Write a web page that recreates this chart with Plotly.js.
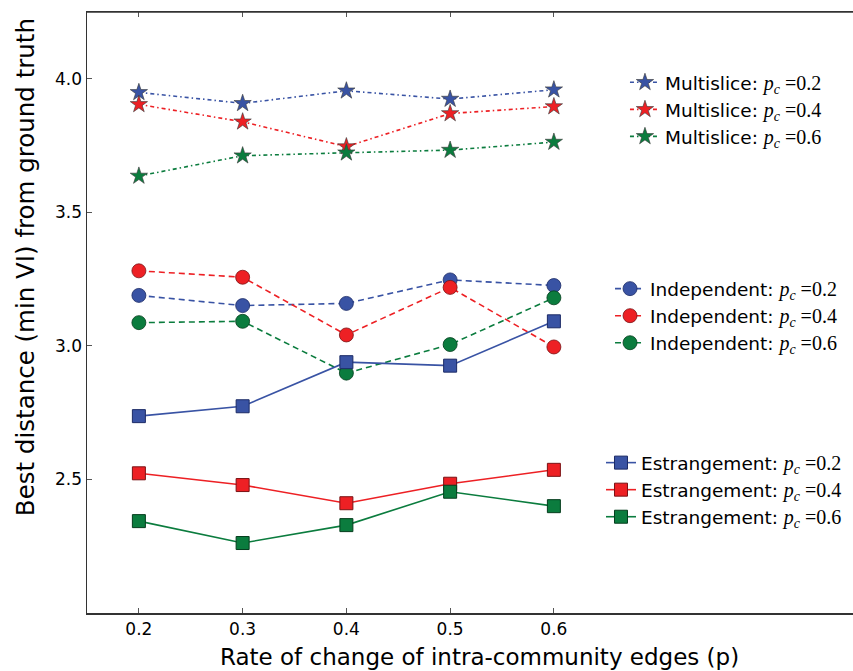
<!DOCTYPE html>
<html>
<head>
<meta charset="utf-8">
<script src="https://cdn.plot.ly/plotly-3.0.1.min.js"></script>
<style>html,body{margin:0;padding:0;background:#fff;}#chart{width:853px;height:671px;}</style>
</head>
<body>
<div id="chart"></div>
<script>
// ---- data ----
const pValues = [0.2, 0.3, 0.4, 0.5, 0.6];

const multislice02 = [3.949, 3.908, 3.955, 3.924, 3.959];
const multislice04 = [3.904, 3.839, 3.746, 3.870, 3.896];
const multislice06 = [3.636, 3.712, 3.723, 3.733, 3.763];

const independent02 = [3.189, 3.151, 3.159, 3.247, 3.226];
const independent04 = [3.281, 3.257, 3.041, 3.219, 2.996];
const independent06 = [3.087, 3.092, 2.898, 3.005, 3.180];

const estrangement02 = [2.737, 2.774, 2.939, 2.926, 3.092];
const estrangement04 = [2.523, 2.479, 2.411, 2.484, 2.536];
const estrangement06 = [2.344, 2.262, 2.329, 2.454, 2.400];

const xTickVals = [0.2, 0.3, 0.4, 0.5, 0.6];
const xTickText = ["0.2", "0.3", "0.4", "0.5", "0.6"];
const yTickVals = [2.5, 3.0, 3.5, 4.0];
const yTickText = ["2.5", "3.0", "3.5", "4.0"];
const pcLabels = ["0.2", "0.4", "0.6"];

// ---- styles ----
const colors = ["#3953a4", "#ed2024", "#0b7c3e"];
const edges = ["#1c2b66", "#7a1214", "#053d1d"];
const FONT = "DejaVu Sans, sans-serif";

function label(name, pc) {
  return name + ": <span style=\"font-family:'Liberation Serif',serif;font-size:20px\"><i>p</i><sub><i>c</i></sub> =" + pc + "</span>";
}

const traces = [];
const msSeries = [multislice02, multislice04, multislice06];
const inSeries = [independent02, independent04, independent06];
const esSeries = [estrangement02, estrangement04, estrangement06];

msSeries.forEach((ys, i) => traces.push({
  x: pValues, y: ys, type: "scatter", mode: "lines+markers",
  name: label("Multislice", pcLabels[i]), legend: "legend",
  line: {color: colors[i], width: 1.6, dash: "4px,3px,1.5px,3px"},
  marker: {symbol: "star", size: 13, color: colors[i], line: {color: "rgba(60,60,60,0.8)", width: 0.8}}
}));
inSeries.forEach((ys, i) => traces.push({
  x: pValues, y: ys, type: "scatter", mode: "lines+markers",
  name: label("Independent", pcLabels[i]), legend: "legend2",
  line: {color: colors[i], width: 1.6, dash: "6px,4px"},
  marker: {symbol: "circle", size: 14, color: colors[i], line: {color: edges[i], width: 0.8}}
}));
esSeries.forEach((ys, i) => traces.push({
  x: pValues, y: ys, type: "scatter", mode: "lines+markers",
  name: label("Estrangement", pcLabels[i]), legend: "legend3",
  line: {color: colors[i], width: 1.6},
  marker: {symbol: "square", size: 13, color: colors[i], line: {color: edges[i], width: 1}}
}));

const legendCommon = {
  font: {family: FONT, size: 18.5, color: "#000"},
  bgcolor: "rgba(0,0,0,0)", borderwidth: 0,
  xanchor: "left", yanchor: "middle", itemclick: false
};

const layout = {
  width: 853, height: 671,
  margin: {l: 87, r: 0, t: 12, b: 58, autoexpand: false},
  paper_bgcolor: "#fff", plot_bgcolor: "#fff",
  font: {family: FONT, color: "#000"},
  showlegend: true,
  xaxis: {
    range: [0.15, 0.8883], tickvals: xTickVals, ticktext: xTickText,
    showgrid: false, zeroline: false, showline: true, linecolor: "#333", linewidth: 1.5,
    mirror: "ticks", ticks: "inside", ticklen: 5, tickcolor: "#555", tickwidth: 1,
    tickfont: {family: FONT, size: 17, color: "#000"}
  },
  yaxis: {
    range: [2.0, 4.25], tickvals: yTickVals, ticktext: yTickText,
    showgrid: false, zeroline: false, showline: true, linecolor: "#333", linewidth: 1.5,
    mirror: false, ticks: "inside", ticklen: 5, tickcolor: "#555", tickwidth: 1,
    tickfont: {family: FONT, size: 17, color: "#000"}
  },
  shapes: [{type: "line", xref: "paper", yref: "paper", x0: 0, x1: 1, y0: 1, y1: 1, line: {color: "#333", width: 1.5}}],
  legend: Object.assign({x: 0.7023, y: 0.8373}, legendCommon),
  legend2: Object.assign({x: 0.6828, y: 0.494}, legendCommon),
  legend3: Object.assign({x: 0.671, y: 0.2045}, legendCommon),
  annotations: [
    {text: "Rate of change of intra-community edges (p)", xref: "paper", yref: "paper",
     x: 0.513, y: -0.074, xanchor: "center", yanchor: "middle", showarrow: false,
     font: {family: FONT, size: 23, color: "#000"}},
    {text: "Best distance (min VI) from ground truth", xref: "paper", yref: "paper",
     x: -0.081, y: 0.5754, xanchor: "center", yanchor: "middle", showarrow: false, textangle: -90,
     font: {family: FONT, size: 24.5, color: "#000"}}
  ]
};

Plotly.newPlot("chart", traces, layout, {displayModeBar: false, staticPlot: true});
</script>
</body>
</html>
